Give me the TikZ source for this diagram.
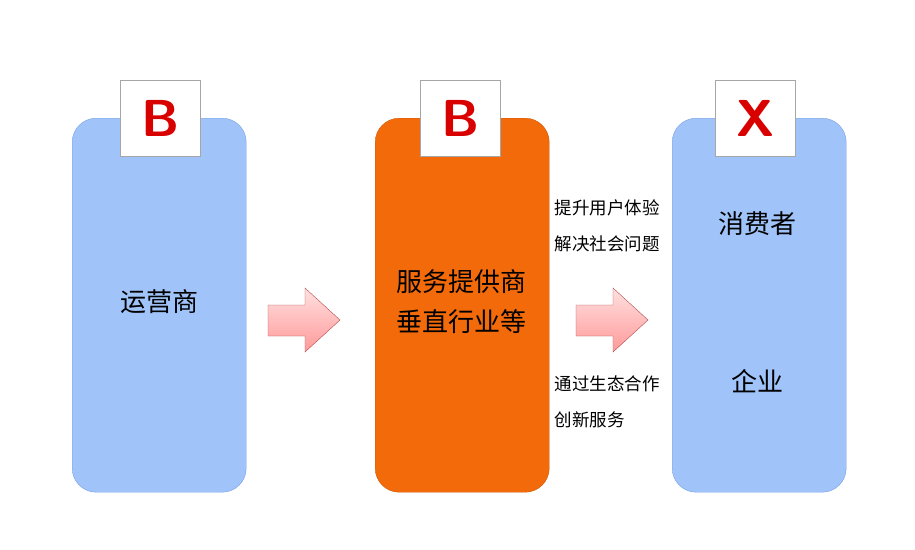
\documentclass[tikz,border=0pt]{standalone}
\usepackage{fontspec}
\newfontfamily\cjk{Noto Sans CJK SC}
\definecolor{lb}{RGB}{160,196,250}
\definecolor{lbd}{RGB}{120,160,225}
\definecolor{og}{RGB}{242,106,10}
\begin{document}
\begin{tikzpicture}[x=1pt,y=-1pt,
  col/.style={rounded corners=24pt,minimum width=174pt,minimum height=374pt,anchor=north west,draw=lbd,line width=0.4pt,fill=lb},
  tag/.style={draw=gray!70,fill=white,minimum width=80pt,minimum height=76pt,anchor=north west,font=\sffamily\bfseries\fontsize{52}{52}\selectfont,text=red!85!black},
  big/.style={font=\cjk\fontsize{26}{40}\selectfont,align=center},
  small/.style={font=\cjk\fontsize{17.5}{36}\selectfont,align=left,anchor=west},
  arr/.style={draw=red!40!gray,top color=red!12,bottom color=red!40}]
\useasboundingbox (0,0) rectangle (915,549);
\node[col] (c1) at (72,118) {};
\node[col,fill=og,draw=og!85!black] (c2) at (375,118) {};
\node[col] (c3) at (672,118) {};
\node[tag] (t1) at (120,80) {B};
\node[tag] (t2) at (420,80) {B};
\node[tag] (t3) at (715,80) {X};
\node[big] (l1) at (159,302) {运营商};
\node[big] (l2) at (461,302) {服务提供商\\垂直行业等};
\node[big] (l3) at (757,224) {消费者};
\node[big] (l4) at (757,381) {企业};
\node[small] (s1) at (551,226) {提升用户体验\\解决社会问题};
\node[small] (s2) at (551,402) {通过生态合作\\创新服务};
\foreach \dx in {0,308}
  \path[arr,shift={(\dx,0)}] (268,305)--(305,305)--(305,288)--(340,320)--(305,352)--(305,336)--(268,336)--cycle;
\end{tikzpicture}
\end{document}
